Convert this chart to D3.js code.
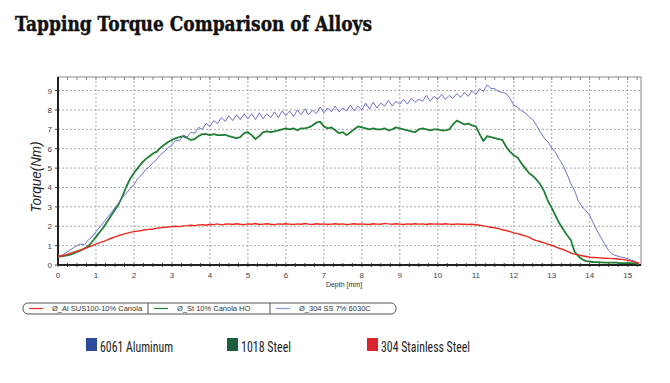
<!DOCTYPE html>
<html>
<head>
<meta charset="utf-8">
<script src="https://cdn.jsdelivr.net/npm/d3@7"></script>
<style>
  body { margin: 0; background: #fff; }
  svg { display: block; }
</style>
</head>
<body>
<div id="chart"></div>
<script>
// sample spacing of the recorded curves (mm)
const depthStep = 0.1;

// 6061 Aluminum (blue), torque in Nm every 0.1 mm from 0
const aluminum = [
  0.45, 0.50, 0.62, 0.75, 0.88, 1.00, 1.08, 1.05, 1.30, 1.45,
  1.72, 1.95, 2.20, 2.45, 2.70, 2.95, 3.20, 3.50, 3.70, 3.95,
  4.15, 4.45, 4.65, 4.90, 5.05, 5.28, 5.45, 5.70, 5.85, 6.05,
  6.20, 6.45, 6.40, 6.70, 6.60, 6.85, 6.80, 7.10, 7.00, 7.30,
  7.15, 7.45, 7.30, 7.60, 7.40, 7.70, 7.45, 7.75, 7.50, 7.80,
  7.55, 7.80, 7.50, 7.85, 7.55, 7.80, 7.60, 7.90, 7.60, 7.95,
  7.70, 7.95, 7.65, 8.00, 7.75, 8.05, 7.75, 8.00, 7.80, 8.15,
  7.85, 8.10, 7.90, 8.20, 7.90, 8.10, 7.95, 8.25, 7.95, 8.20,
  8.00, 8.35, 8.05, 8.40, 8.10, 8.35, 8.20, 8.50, 8.20, 8.45,
  8.30, 8.55, 8.30, 8.60, 8.40, 8.55, 8.45, 8.75, 8.45, 8.70,
  8.55, 8.80, 8.55, 8.75, 8.60, 8.85, 8.65, 8.90, 8.70, 9.00,
  8.80, 9.10, 8.95, 9.30, 9.10, 9.10, 8.95, 8.90, 8.85, 8.60,
  8.25, 8.15, 7.95, 7.85, 7.65, 7.50, 7.20, 6.85, 6.55, 6.35,
  6.05, 5.80, 5.45, 5.15, 4.70, 4.20, 3.85, 3.30, 3.00, 2.80,
  2.55, 2.15, 1.75, 1.40, 1.05, 0.75, 0.55, 0.48, 0.42, 0.38,
  0.32, 0.25, 0.18, 0.08
];

// 1018 Steel (green)
const steel = [
  0.43, 0.45, 0.48, 0.52, 0.58, 0.68, 0.75, 0.85, 0.98, 1.20,
  1.45, 1.70, 1.95, 2.25, 2.55, 2.85, 3.15, 3.55, 4.05, 4.45,
  4.75, 5.00, 5.25, 5.45, 5.60, 5.75, 5.85, 6.05, 6.20, 6.35,
  6.45, 6.55, 6.60, 6.65, 6.55, 6.45, 6.50, 6.65, 6.75, 6.75,
  6.70, 6.75, 6.70, 6.70, 6.72, 6.65, 6.60, 6.55, 6.60, 6.80,
  6.85, 6.70, 6.50, 6.65, 6.85, 6.90, 6.85, 6.90, 6.95, 7.00,
  7.05, 7.00, 7.05, 6.95, 7.05, 7.05, 7.10, 7.20, 7.35, 7.40,
  7.15, 7.05, 7.10, 6.95, 6.80, 6.85, 6.70, 6.85, 7.00, 7.15,
  7.10, 7.05, 7.00, 7.05, 7.00, 7.00, 7.05, 6.95, 7.00, 7.10,
  7.05, 7.00, 6.95, 6.90, 6.85, 7.00, 7.05, 7.00, 6.95, 7.00,
  7.00, 6.95, 6.95, 7.00, 7.25, 7.45, 7.35, 7.25, 7.30, 7.20,
  7.15, 6.75, 6.40, 6.65, 6.60, 6.55, 6.50, 6.45, 6.10, 5.85,
  5.65, 5.55, 5.25, 5.00, 4.75, 4.60, 4.40, 4.15, 3.80, 3.30,
  2.95, 2.55, 2.15, 1.85, 1.55, 1.30, 0.70, 0.45, 0.30, 0.20,
  0.18, 0.15, 0.15, 0.14, 0.12, 0.12, 0.12, 0.12, 0.10, 0.10,
  0.10, 0.10, 0.08, 0.05
];

// 304 Stainless Steel (red)
const stainless = [
  0.45, 0.48, 0.52, 0.58, 0.65, 0.72, 0.78, 0.85, 0.92, 1.00,
  1.08, 1.15, 1.22, 1.30, 1.38, 1.45, 1.52, 1.58, 1.63, 1.68,
  1.72, 1.75, 1.78, 1.82, 1.84, 1.86, 1.90, 1.92, 1.95, 1.96,
  1.98, 2.00, 1.98, 2.02, 2.03, 2.05, 2.03, 2.07, 2.08, 2.05,
  2.10, 2.08, 2.12, 2.07, 2.10, 2.12, 2.09, 2.13, 2.10, 2.08,
  2.12, 2.10, 2.14, 2.09, 2.11, 2.13, 2.10, 2.08, 2.12, 2.10,
  2.13, 2.11, 2.09, 2.12, 2.10, 2.14, 2.11, 2.09, 2.13, 2.10,
  2.12, 2.09, 2.11, 2.13, 2.10, 2.12, 2.08, 2.11, 2.13, 2.10,
  2.12, 2.10, 2.09, 2.13, 2.11, 2.10, 2.15, 2.12, 2.10, 2.13,
  2.11, 2.09, 2.12, 2.10, 2.13, 2.11, 2.12, 2.09, 2.13, 2.11,
  2.12, 2.10, 2.13, 2.11, 2.09, 2.12, 2.10, 2.11, 2.09, 2.10,
  2.08, 2.05, 2.02, 1.98, 1.95, 1.92, 1.88, 1.82, 1.78, 1.72,
  1.66, 1.62, 1.56, 1.50, 1.44, 1.32, 1.26, 1.20, 1.14, 1.08,
  1.02, 0.94, 0.86, 0.80, 0.72, 0.62, 0.56, 0.52, 0.48, 0.44,
  0.40, 0.39, 0.38, 0.36, 0.35, 0.34, 0.33, 0.32, 0.30, 0.28,
  0.24, 0.20, 0.15, 0.08
];

const xTicks = [0, 1, 2, 3, 4, 5, 6, 7, 8, 9, 10, 11, 12, 13, 14, 15];
const yTicks = [0, 1, 2, 3, 4, 5, 6, 7, 8, 9];

const boxLabels = ['Ø_Al SUS100-10% Canola', 'Ø_St 10% Canola HO', 'Ø_304 SS 7% 6030C'];
const alloyNames = ['6061 Aluminum', '1018 Steel', '304 Stainless Steel'];

const width = 670, height = 383;
const margin = { top: 77, right: 29, bottom: 118, left: 58 };
const w = width - margin.left - margin.right;
const h = height - margin.top - margin.bottom;

const x = d3.scaleLinear().domain([0, 15.35]).range([0, w]);
const y = d3.scaleLinear().domain([0, 9.7]).range([h, 0]);

const svg = d3.select('#chart').append('svg')
  .attr('width', width)
  .attr('height', height);

svg.append('text')
  .attr('x', 15)
  .attr('y', 31)
  .attr('font-family', '"DejaVu Serif", serif')
  .attr('font-weight', 'bold')
  .attr('font-size', '20px')
  .attr('textLength', 357)
  .attr('lengthAdjust', 'spacingAndGlyphs')
  .attr('fill', '#111')
  .attr('stroke', '#111')
  .attr('stroke-width', 0.4)
  .text('Tapping Torque Comparison of Alloys');

const g = svg.append('g')
  .attr('transform', `translate(${margin.left},${margin.top})`);

// dotted grid
g.selectAll('.vgrid')
  .data(xTicks.filter(d => d > 0))
  .join('line')
  .attr('x1', d => x(d)).attr('x2', d => x(d))
  .attr('y1', 0).attr('y2', h)
  .attr('stroke', '#aaa')
  .attr('stroke-dasharray', '2,2');

g.selectAll('.hgrid')
  .data(yTicks.filter(d => d > 0))
  .join('line')
  .attr('x1', 0).attr('x2', w)
  .attr('y1', d => y(d)).attr('y2', d => y(d))
  .attr('stroke', '#aaa')
  .attr('stroke-dasharray', '2,2');

// frame
g.append('rect')
  .attr('width', w).attr('height', h)
  .attr('fill', 'none')
  .attr('stroke', '#888');

// minor ticks on x every 0.25 mm
const minor = d3.range(0, 15.3, 0.25);
g.selectAll('.mtick')
  .data(minor)
  .join('line')
  .attr('x1', d => x(d)).attr('x2', d => x(d))
  .attr('y1', h - 2).attr('y2', h + 2)
  .attr('stroke', '#444');
g.selectAll('.ttick')
  .data(minor)
  .join('line')
  .attr('x1', d => x(d)).attr('x2', d => x(d))
  .attr('y1', 0).attr('y2', 3)
  .attr('stroke', '#888');
g.selectAll('.ytick')
  .data(yTicks)
  .join('line')
  .attr('x1', -3).attr('x2', 0)
  .attr('y1', d => y(d)).attr('y2', d => y(d))
  .attr('stroke', '#444');

// axis lines
g.append('line')
  .attr('x1', 0).attr('x2', w).attr('y1', h).attr('y2', h)
  .attr('stroke', '#222').attr('stroke-width', 2);
g.append('line')
  .attr('x1', 0).attr('x2', 0).attr('y1', 0).attr('y2', h)
  .attr('stroke', '#222').attr('stroke-width', 2);

g.selectAll('.xlab')
  .data(xTicks)
  .join('text')
  .attr('x', d => x(d))
  .attr('y', h + 13)
  .attr('text-anchor', 'middle')
  .attr('font-family', '"Liberation Sans", Arial, sans-serif')
  .attr('font-size', '8px')
  .attr('fill', '#444')
  .text(d => d);

g.selectAll('.ylab')
  .data(yTicks)
  .join('text')
  .attr('x', -6)
  .attr('y', d => y(d) + 3)
  .attr('text-anchor', 'end')
  .attr('font-family', '"Liberation Sans", Arial, sans-serif')
  .attr('font-size', '8px')
  .attr('fill', '#444')
  .text(d => d);

g.append('text')
  .attr('x', 286)
  .attr('y', h + 22)
  .attr('text-anchor', 'middle')
  .attr('font-family', '"Liberation Sans", Arial, sans-serif')
  .attr('font-size', '7px')
  .attr('fill', '#333')
  .text('Depth [mm]');

svg.append('text')
  .attr('transform', 'translate(41,177) rotate(-90)')
  .attr('text-anchor', 'middle')
  .attr('font-family', '"Liberation Sans", Arial, sans-serif')
  .attr('font-style', 'italic')
  .attr('font-size', '15px')
  .attr('textLength', 71)
  .attr('lengthAdjust', 'spacingAndGlyphs')
  .attr('fill', '#222')
  .text('Torque(Nm)');

// curves
const line = d3.line()
  .x((d, i) => x(i * depthStep))
  .y(d => y(d));

const series = [
  { values: steel, color: '#1f7f35', width: 1.8 },
  { values: aluminum, color: '#5a63c6', width: 0.9 },
  { values: stainless, color: '#ec2a22', width: 1.4 },
];

g.selectAll('.curve')
  .data(series)
  .join('path')
  .attr('d', d => line(d.values))
  .attr('fill', 'none')
  .attr('stroke', d => d.color)
  .attr('stroke-width', d => d.width)
  .attr('stroke-linejoin', 'round');

// boxed legend under the plot
const box = svg.append('g').attr('transform', 'translate(23,303)');
box.append('rect')
  .attr('width', 373).attr('height', 11)
  .attr('rx', 5)
  .attr('fill', '#fff')
  .attr('stroke', '#555');
const cellX = [0, 125, 247];
const cellColors = ['#ec2a22', '#1f7f35', '#8e94d8'];
[125, 247].forEach(cx => {
  box.append('line')
    .attr('x1', cx).attr('x2', cx).attr('y1', 0).attr('y2', 11)
    .attr('stroke', '#555');
});
boxLabels.forEach((lab, i) => {
  box.append('line')
    .attr('x1', cellX[i] + 6).attr('x2', cellX[i] + 20)
    .attr('y1', 5.5).attr('y2', 5.5)
    .attr('stroke', cellColors[i])
    .attr('stroke-width', 1.2);
  box.append('text')
    .attr('x', cellX[i] + 29)
    .attr('y', 8.3)
    .attr('font-family', '"Liberation Sans", Arial, sans-serif')
    .attr('font-size', '7.5px')
    .attr('fill', '#333')
    .text(lab);
});

// alloy key
const keyX = [86, 227, 367];
const keyColors = ['#2b4a9b', '#1b5e3b', '#d9252b'];
const keyWidths = [73, 50, 89];
alloyNames.forEach((name, i) => {
  svg.append('rect')
    .attr('x', keyX[i]).attr('y', 338)
    .attr('width', 11).attr('height', 13)
    .attr('fill', keyColors[i]);
  svg.append('text')
    .attr('x', keyX[i] + 14)
    .attr('y', 351.5)
    .attr('font-family', '"Liberation Sans Narrow", "Roboto Condensed", Roboto, sans-serif')
    .attr('font-size', '15px')
    .attr('textLength', keyWidths[i])
    .attr('lengthAdjust', 'spacingAndGlyphs')
    .attr('fill', '#222')
    .text(name);
});
</script>
</body>
</html>
